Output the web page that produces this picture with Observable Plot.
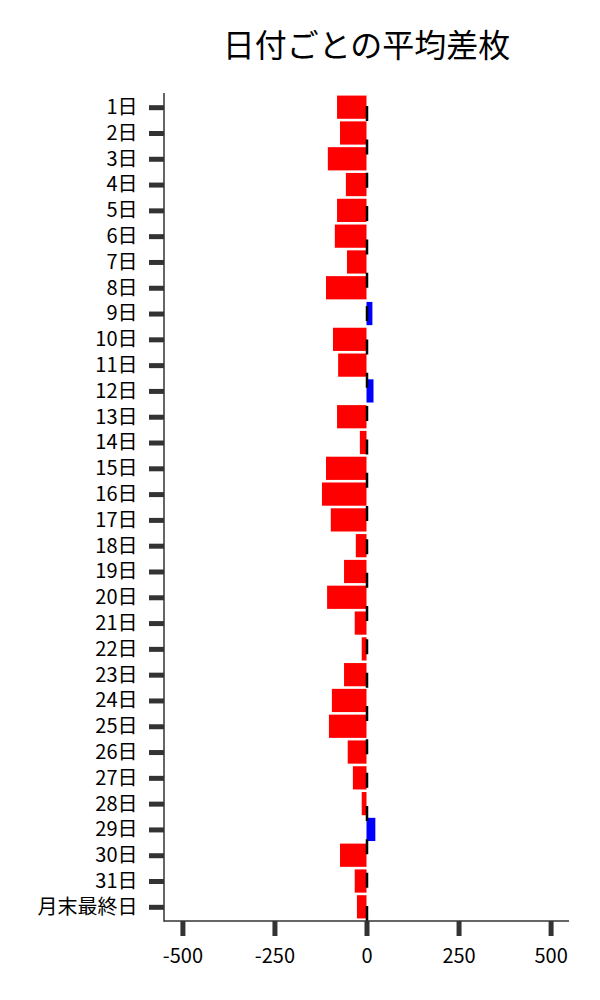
<!DOCTYPE html>
<html>
<head>
<meta charset="utf-8">
<script src="https://cdn.jsdelivr.net/npm/d3@7"></script>
<script src="https://cdn.jsdelivr.net/npm/@observablehq/plot@0.6"></script>
<style>
  html, body { margin: 0; padding: 0; background: #fff; }
  #title {
    box-sizing: border-box;
    width: 600px; height: 80px;
    padding: 27px 31px 0 164px;
    font-family: "Noto Sans CJK JP", sans-serif;
    font-size: 32px; line-height: 32px;
    text-align: center; color: #000;
  }
  #chart svg { display: block; }
</style>
</head>
<body>
<div id="title">日付ごとの平均差枚</div>
<div id="chart"></div>
<script>
const days = ["1日","2日","3日","4日","5日","6日","7日","8日","9日","10日",
  "11日","12日","13日","14日","15日","16日","17日","18日","19日","20日",
  "21日","22日","23日","24日","25日","26日","27日","28日","29日","30日",
  "31日","月末最終日"];
const values = [-80,-72,-105,-56,-80,-86,-53,-110,16,-91,
  -77,19,-80,-18,-110,-121,-97,-29,-61,-107,
  -32,-13,-61,-94,-102,-51,-37,-13,24,-72,
  -32,-26];
const xTicks = [-500, -250, 0, 250, 500];
const xDomain = [-550, 550];

const data = days.map((d, i) => ({day: d, value: values[i]}));

const W = 600, H = 920, mT = 13, mB = 79, mL = 164, mR = 31;
const L = H - mT - mB;
const dash = 15, period = 33.33;
const dashOffset = (((dash - L) % period) + period) % period;

const spines = (index, scales, values, dims) => {
  const g = d3.create("svg:g");
  const x0 = dims.marginLeft, x1 = dims.width - dims.marginRight;
  const y0 = dims.marginTop, y1 = dims.height - dims.marginBottom;
  g.append("line").attr("x1", x0).attr("x2", x0).attr("y1", y0).attr("y2", y1 + 0.75)
    .attr("stroke", "#333").attr("stroke-width", 1.5);
  g.append("line").attr("x1", x0).attr("x2", x1).attr("y1", y1).attr("y2", y1)
    .attr("stroke", "#333").attr("stroke-width", 1.5);
  return g.node();
};

const chart = Plot.plot({
  width: W, height: H,
  marginTop: mT, marginBottom: mB, marginLeft: mL, marginRight: mR,
  style: {fontFamily: "'Noto Sans CJK JP', sans-serif", fontSize: "20px", color: "#000", background: "#fff"},
  x: {domain: xDomain, range: [mL, W - mR]},
  y: {domain: days, padding: 0.1, round: false, range: [mT, H - mB]},
  marks: [
    Plot.barX(data.filter(d => d.value < 0), {x: "value", y: "day", fill: "#ff0000"}),
    Plot.barX(data.filter(d => d.value >= 0), {x: "value", y: "day", fill: "#0000ff"}),
    Plot.ruleX([0], {stroke: "#000", strokeWidth: 2.5, strokeDasharray: `${dash},${period - dash}`, strokeDashoffset: dashOffset}),
    spines,
    Plot.axisY({tickSize: 15, tickPadding: 12, stroke: "#333", strokeWidth: 5, fontSize: 20, fill: "#000", label: null}),
    Plot.axisX({ticks: xTicks, tickFormat: d => String(d), tickSize: 15, tickPadding: 12, stroke: "#333", strokeWidth: 5, fontSize: 20, fill: "#000", label: null})
  ]
});
document.getElementById("chart").appendChild(chart);
</script>
</body>
</html>
